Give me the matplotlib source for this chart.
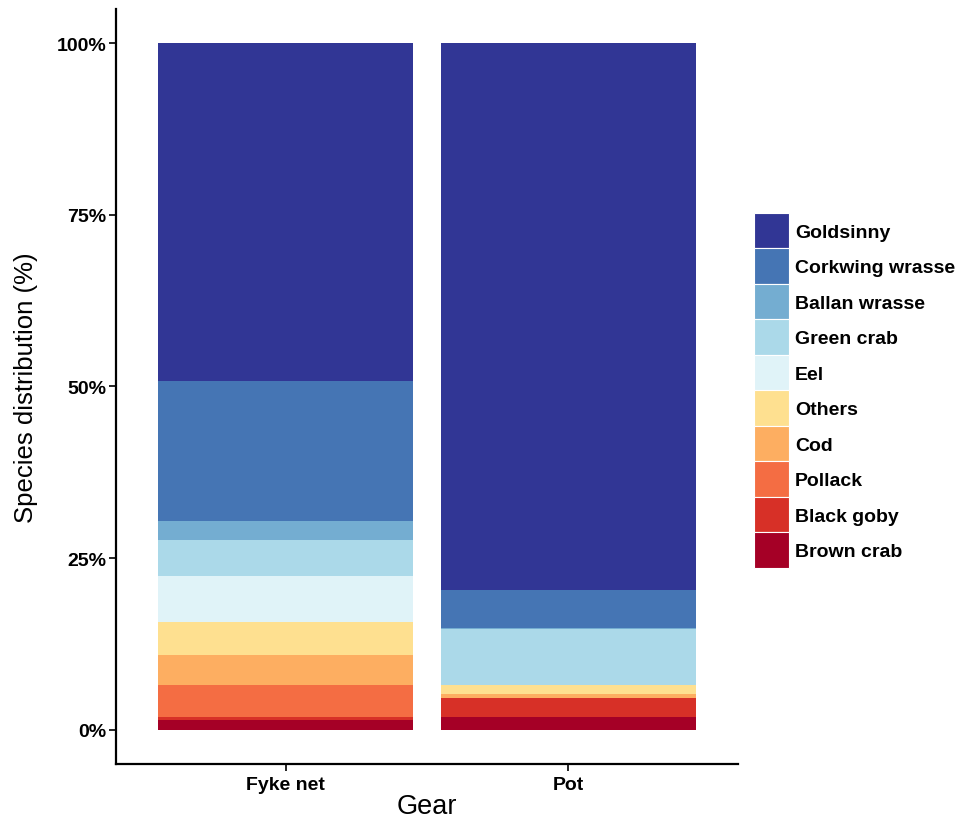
"""Species distribution by gear type (stacked 100% bars)."""

import matplotlib
matplotlib.use("Agg")
import matplotlib.pyplot as plt
from matplotlib.patches import Patch
from matplotlib.ticker import FuncFormatter
import numpy as np

plt.rcParams.update({
    "font.family": ["Liberation Sans", "DejaVu Sans"],
    "font.size": 12,
    "font.weight": "bold",
    "axes.labelweight": "normal",
})

GEARS = ["Fyke net", "Pot"]

# stacking order, bottom -> top
SPECIES = ["Brown crab", "Black goby", "Pollack", "Cod", "Others",
           "Eel", "Green crab", "Ballan wrasse", "Corkwing wrasse", "Goldsinny"]

# percentages per gear (Fyke net, Pot)
BROWN_CRAB = [1.4, 1.9]
BLACK_GOBY = [0.5, 2.7]
POLLACK = [4.65, 0.0]
COD = [4.35, 0.6]
OTHERS = [4.75, 1.3]
EEL = [6.7, 0.0]
GREEN_CRAB = [5.2, 8.1]
BALLAN_WRASSE = [2.9, 0.2]
CORKWING_WRASSE = [20.4, 5.6]
GOLDSINNY = [49.15, 79.6]

COLORS = ["#a50026", "#d73027", "#f46d43", "#fdae61", "#fee090",
          "#e0f3f8", "#abd9e9", "#74add1", "#4575b4", "#313695"]

VALUES = [BROWN_CRAB, BLACK_GOBY, POLLACK, COD, OTHERS,
          EEL, GREEN_CRAB, BALLAN_WRASSE, CORKWING_WRASSE, GOLDSINNY]


def main():
    fig = plt.figure(figsize=(9.69, 8.29), dpi=100)
    ax = fig.add_axes([116 / 969, 1 - 765 / 829, (738 - 116) / 969, (765 - 9.7) / 829])

    data = np.array(VALUES, dtype=float)
    data = data / data.sum(axis=0)
    x = np.arange(1, len(GEARS) + 1)
    bottom = np.zeros(len(GEARS))
    for name, vals, col in zip(SPECIES, data, COLORS):
        ax.bar(x, vals, bottom=bottom, width=0.9, color=col, linewidth=0, label=name)
        bottom += vals

    ax.set_xlim(0.4, 2.6)
    ax.set_ylim(-0.05, 1.05)
    ax.set_yticks([0, 0.25, 0.5, 0.75, 1.0])
    ax.yaxis.set_major_formatter(FuncFormatter(lambda v, p: f"{v * 100:.0f}%"))
    ax.set_xticks(x)
    ax.set_xticklabels(GEARS)

    for side in ("top", "right"):
        ax.spines[side].set_visible(False)
    for side in ("left", "bottom"):
        ax.spines[side].set_linewidth(1.6)
    ax.tick_params(axis="both", length=5, width=1.2, labelsize=14, colors="black")
    ax.tick_params(axis="y", pad=2)

    ax.set_xlabel("Gear", fontsize=19.5, labelpad=0)
    ax.set_ylabel("Species distribution (%)", fontsize=18.5)
    ax.yaxis.set_label_coords(-0.125, 0.5)

    handles = [Patch(facecolor=c, edgecolor="white", linewidth=0.8, label=s)
               for s, c in zip(SPECIES, COLORS)][::-1]
    fig.legend(handles=handles, loc="upper left",
               bbox_to_anchor=(754 / 969, 1 - 214 / 829),
               frameon=False, fontsize=14, handlelength=1.8, handleheight=2.43,
               labelspacing=0.0, handletextpad=0.3, borderpad=0, borderaxespad=0)

    fig.savefig("out.png", dpi=100, facecolor="white")
    plt.close(fig)


if __name__ == "__main__":
    main()
